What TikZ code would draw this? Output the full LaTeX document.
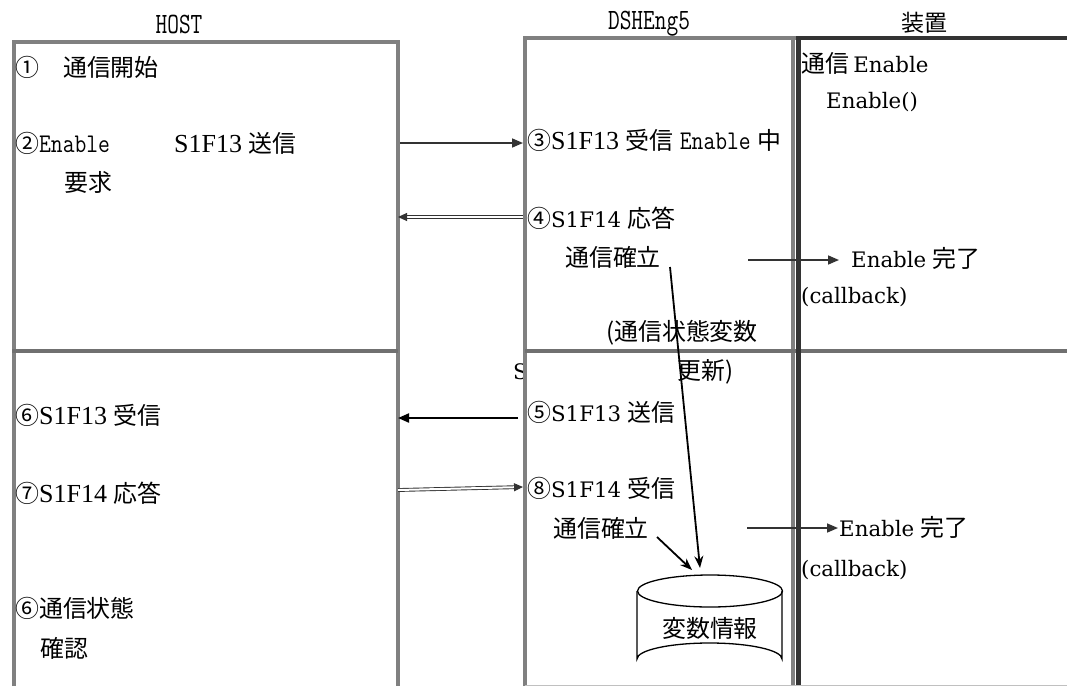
\documentclass[tikz,border=0pt]{standalone}
\usepackage{fontspec}
\setmainfont{Liberation Serif}
\newfontfamily\jp{Noto Sans CJK JP}[Scale=0.92]
\newfontfamily\cent{DejaVu Serif}[Scale=0.82]
\newfontfamily\monofont{Latin Modern Mono}
\newcommand{\J}[1]{{\jp #1}}
\newcommand{\C}[1]{{\cent #1}}
\newcommand{\M}[1]{\scalebox{0.85}[1]{\monofont\fontsize{27}{30}\selectfont #1}}
\newcommand{\Hdr}[1]{\scalebox{0.77}[1]{\monofont\fontsize{29.5}{32}\selectfont #1}}
\usetikzlibrary{arrows.meta}
\definecolor{boxgray}{HTML}{808080}
\definecolor{divgray}{HTML}{707070}
\definecolor{darkline}{HTML}{333333}
\definecolor{lightline}{HTML}{C0C0C0}
\begin{document}
\begin{tikzpicture}[x=1pt,y=-1pt,
  txt/.style={anchor=west,inner sep=0pt,font=\fontsize{26}{30}\selectfont},
  hdr/.style={inner sep=0pt,font=\fontsize{26}{30}\selectfont},
  boxline/.style={draw=boxgray,line width=4pt},
  divline/.style={draw=divgray,line width=4pt},
  sepline/.style={draw=darkline,line width=5pt},
  msg/.style={draw=darkline,line width=1.6pt,-{Triangle[length=11pt,width=9pt]}},
  dmsg/.style={draw=darkline,double=white,double distance=2pt,line width=0.9pt,-{Triangle[length=9pt,width=8pt]}},
  upd/.style={draw=black,line width=1.8pt,-{Stealth[length=12pt,width=9pt]}}]
\useasboundingbox (0,0) rectangle (1067,686);
\fill[white] (0,0) rectangle (1067,686);

% headers
\node[hdr] (hhost) at (179,24) {\Hdr{HOST}};
\node[hdr] (hdsh) at (649,24) {\Hdr{DSHEng5}};
\node[hdr] (hdev) at (924,23) {\J{\fontsize{25}{28}\selectfont 装置}};

% hidden S behind the DSHEng5 box
\begin{scope}
\clip (500,355) rectangle (523,395);
\node[txt] (hs) at (513,372) {\C{S}};
\end{scope}

% frames
\draw[boxline] (14,686) -- (14,42) -- (398,42) -- (398,686);
\draw[divline] (12,351) -- (398,351);
\draw[boxline] (525,686) -- (525,38) -- (796,38);
\draw[boxline] (793,38) -- (793,686);
\draw[divline] (525,351) -- (1067,351);
\draw[sepline] (798,36) -- (798,686);
\draw[draw=darkline,line width=4pt] (796,38) -- (1067,38);
\draw[draw=lightline,line width=1pt] (525,685.5) -- (1067,685.5);

% HOST texts
\node[txt] (t1) at (15,67) {\J{①\hspace{24pt}通信開始}};
\node[txt] (t2) at (15,143) {\J{②}\M{Enable}};
\node[txt] (t2b) at (174,143) {S1F13 \J{送信}};
\node[txt] (t2c) at (64,182) {\J{要求}};
\node[txt] (t6) at (15,415) {\J{⑥}S1F13 \J{受信}};
\node[txt] (t7) at (15,493) {\J{⑦}S1F14 \J{応答}};
\node[txt] (t6b) at (15,608) {\J{⑥通信状態}};
\node[txt] (t6c) at (40,648) {\J{確認}};

% DSHEng5 texts
\node[txt] (m3) at (527,140) {\J{③}S1F13 \J{受信} \M{Enable} \J{中}};
\node[txt] (m4) at (527,218) {\J{④}\C{S1F14} \J{応答}};
\node[txt] (m4b) at (565,257) {\J{通信確立}};
\node[txt] (m4c) at (606,333) {\J{(通信状態変数}};
\node[txt] (m4d) at (677,372) {\J{更新)}};
\node[txt] (m5) at (527,412) {\J{⑤}\C{S1F13} \J{送信}};
\node[txt] (m8) at (527,488) {\J{⑧}\C{S1F14} \J{受信}};
\node[txt] (m8b) at (553,528) {\J{通信確立}};

% database cylinder
\draw[line width=1.3pt,fill=white] (637,591) -- (637,659)
  arc[start angle=180,end angle=360,x radius=72.5,y radius=16] -- (782,591);
\draw[line width=1.3pt] (710,591) ellipse [x radius=72.5,y radius=16];
\node[inner sep=0pt,font=\fontsize{26}{30}\selectfont] (db) at (710,628) {\J{変数情報}};
\coordinate (dbtop1) at (692,570);
\coordinate (dbtop2) at (700,568);

% device texts
\node[txt] (r1) at (801,63) {\J{通信}\,\C{Enable}};
\node[txt] (r2) at (826,102) {\C{Enable()}};
\node[txt] (r3) at (851,258) {\C{Enable} \J{完了}};
\node[txt] (r4) at (801,297) {\C{(callback)}};
\node[txt] (r5) at (839,527) {\C{Enable} \J{完了}};
\node[txt] (r6) at (801,570) {\C{(callback)}};

% connector coordinates
\coordinate (h1) at (400,143); \coordinate (d1) at (523,143);
\coordinate (d2) at (523,217); \coordinate (h2) at (398,217);
\coordinate (d3) at (518,418); \coordinate (h3) at (398,418);
\coordinate (h4) at (398,490); \coordinate (d4) at (523,487);
\coordinate (e1) at (748,260); \coordinate (f1) at (839,260);
\coordinate (e2) at (747,528); \coordinate (f2) at (838,528);
\coordinate (u1) at (670,267);
\coordinate (u2) at (657,537);

% messages
\draw[msg] (h1) -- (d1);
\draw[dmsg] (d2) -- (h2);
\draw[msg,draw=black,line width=2pt] (d3) -- (h3);
\draw[dmsg] (h4) -- (d4);
\draw[msg] (e1) -- (f1);
\draw[msg] (e2) -- (f2);
\draw[upd] (u1) -- (dbtop2);
\draw[upd] (u2) -- (dbtop1);
\end{tikzpicture}
\end{document}
